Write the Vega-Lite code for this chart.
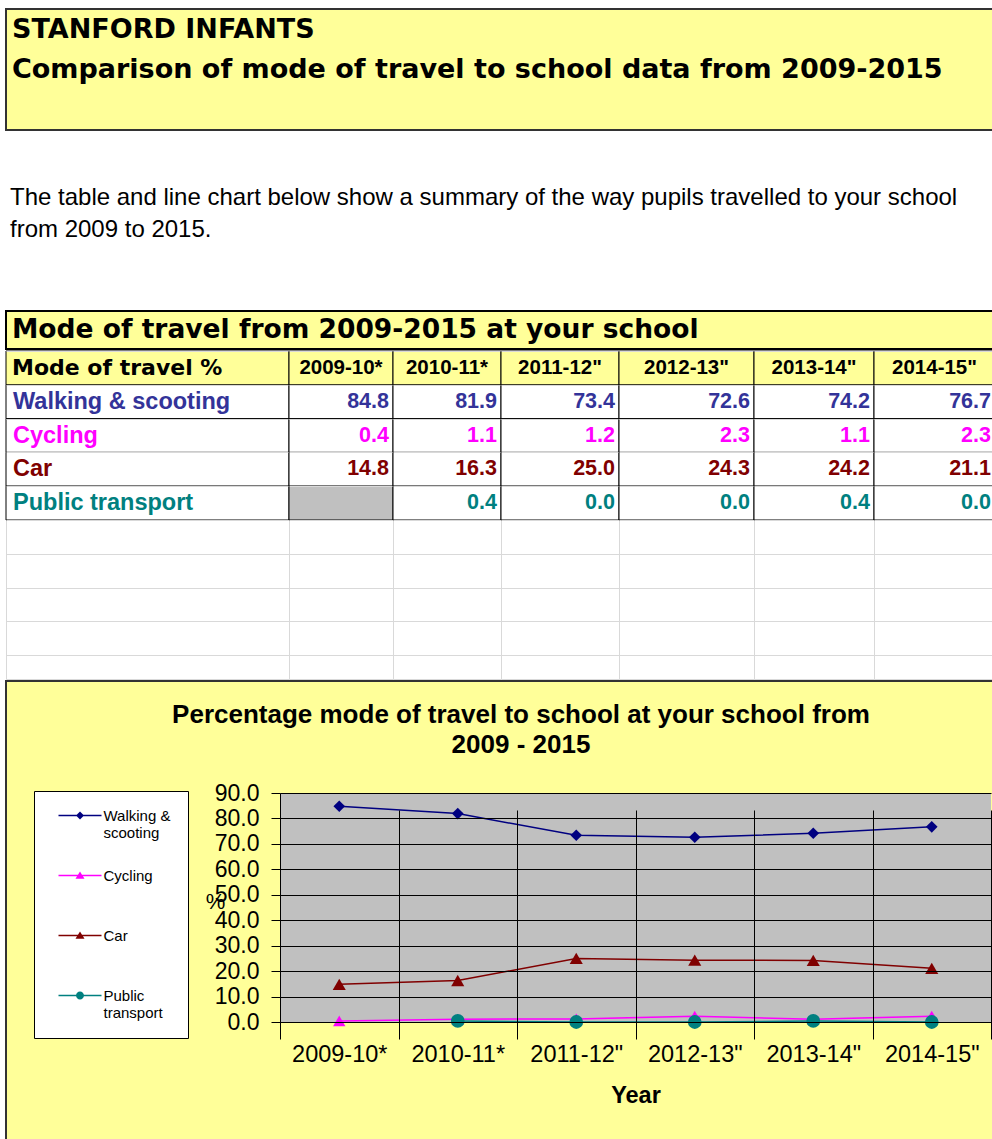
{
  "$schema": "https://vega.github.io/schema/vega-lite/v6.json",
  "usermeta": {"embedOptions": {"actions": false}},
  "background": "white",
  "padding": {"left": 5, "top": 8, "right": 0, "bottom": 0},
  "spacing": 0,
  "bounds": "full",
  "config": {"view": {"stroke": null}, "axis": {"minExtent": 0}},
  "resolve": {"scale": {"x": "independent", "y": "independent", "color": "independent"}},
  "datasets": {
    "heading": [
      {"line": 1, "text": "STANFORD INFANTS"},
      {"line": 2, "text": "Comparison of mode of travel to school data from 2009-2015"}
    ],
    "intro": [
      {"line": 1, "text": "The table and line chart below show a summary of the way pupils travelled to your school"},
      {"line": 2, "text": "from 2009 to 2015."}
    ],
    "tableMeta": [{"title": "Mode of travel from 2009-2015 at your school", "rowHeader": "Mode of travel %"}],
    "modes": [
      {"mode": "Walking & scooting"},
      {"mode": "Cycling"},
      {"mode": "Car"},
      {"mode": "Public transport"}
    ],
    "years": [
      {"year": "2009-10*", "col": 1},
      {"year": "2010-11*", "col": 2},
      {"year": "2011-12\"", "col": 3},
      {"year": "2012-13\"", "col": 4},
      {"year": "2013-14\"", "col": 5},
      {"year": "2014-15\"", "col": 6}
    ],
    "travel": [
      {"year": "2009-10*", "col": 1, "mode": "Walking & scooting", "pct": 84.8},
      {"year": "2009-10*", "col": 1, "mode": "Cycling", "pct": 0.4},
      {"year": "2009-10*", "col": 1, "mode": "Car", "pct": 14.8},
      {"year": "2009-10*", "col": 1, "mode": "Public transport", "pct": null},
      {"year": "2010-11*", "col": 2, "mode": "Walking & scooting", "pct": 81.9},
      {"year": "2010-11*", "col": 2, "mode": "Cycling", "pct": 1.1},
      {"year": "2010-11*", "col": 2, "mode": "Car", "pct": 16.3},
      {"year": "2010-11*", "col": 2, "mode": "Public transport", "pct": 0.4},
      {"year": "2011-12\"", "col": 3, "mode": "Walking & scooting", "pct": 73.4},
      {"year": "2011-12\"", "col": 3, "mode": "Cycling", "pct": 1.2},
      {"year": "2011-12\"", "col": 3, "mode": "Car", "pct": 25.0},
      {"year": "2011-12\"", "col": 3, "mode": "Public transport", "pct": 0.0},
      {"year": "2012-13\"", "col": 4, "mode": "Walking & scooting", "pct": 72.6},
      {"year": "2012-13\"", "col": 4, "mode": "Cycling", "pct": 2.3},
      {"year": "2012-13\"", "col": 4, "mode": "Car", "pct": 24.3},
      {"year": "2012-13\"", "col": 4, "mode": "Public transport", "pct": 0.0},
      {"year": "2013-14\"", "col": 5, "mode": "Walking & scooting", "pct": 74.2},
      {"year": "2013-14\"", "col": 5, "mode": "Cycling", "pct": 1.1},
      {"year": "2013-14\"", "col": 5, "mode": "Car", "pct": 24.2},
      {"year": "2013-14\"", "col": 5, "mode": "Public transport", "pct": 0.4},
      {"year": "2014-15\"", "col": 6, "mode": "Walking & scooting", "pct": 76.7},
      {"year": "2014-15\"", "col": 6, "mode": "Cycling", "pct": 2.3},
      {"year": "2014-15\"", "col": 6, "mode": "Car", "pct": 21.1},
      {"year": "2014-15\"", "col": 6, "mode": "Public transport", "pct": 0.0}
    ]
  },
  "vconcat": [
    {
      "width": 995, "height": 121,
      "view": {"fill": "#ffff99", "stroke": "#333333", "strokeWidth": 2},
      "data": {"name": "heading"},
      "mark": {"type": "text", "align": "left", "baseline": "alphabetic", "dx": 6, "font": "DejaVu Sans", "fontSize": 27, "fontWeight": "bold", "color": "black"},
      "encoding": {
        "x": {"datum": 0, "type": "quantitative", "scale": {"domain": [0, 1]}, "axis": null},
        "y": {"field": "line", "type": "ordinal", "scale": {"type": "point", "range": [28.5, 69], "padding": 0}, "axis": null},
        "text": {"field": "text"}
      }
    },
    {
      "width": 989, "height": 179,
      "data": {"name": "intro"},
      "mark": {"type": "text", "align": "left", "baseline": "alphabetic", "dx": 4, "font": "Liberation Sans", "fontSize": 24, "color": "black"},
      "encoding": {
        "x": {"datum": 0, "type": "quantitative", "scale": {"domain": [0, 1]}, "axis": null},
        "y": {"field": "line", "type": "ordinal", "scale": {"type": "point", "range": [74, 106], "padding": 0}, "axis": null},
        "text": {"field": "text"}
      }
    },
    {
      "width": 989, "height": 38,
      "view": {"fill": "#ffff99", "stroke": "black", "strokeWidth": 2},
      "data": {"name": "tableMeta"},
      "mark": {"type": "text", "align": "left", "baseline": "middle", "dx": 6, "font": "DejaVu Sans", "fontSize": 26.5, "fontWeight": "bold", "color": "black"},
      "encoding": {
        "x": {"datum": 0, "type": "quantitative", "scale": {"domain": [0, 1]}, "axis": null},
        "text": {"field": "title"}
      }
    },
    {
      "spacing": 0,
      "bounds": "flush",
      "resolve": {"scale": {"x": "independent", "y": "independent", "color": "independent"}},
      "hconcat": [
        {
          "width": 283, "height": 328,
          "view": {"fill": "white", "stroke": "#d9d9d9"},
          "encoding": {"y": {"field": "mode", "type": "nominal", "scale": {"domain": ["Mode of travel %", "Walking & scooting", "Cycling", "Car", "Public transport", "e1", "e2", "e3", "e4"], "range": [0, 304.2], "paddingInner": 0, "paddingOuter": 0}, "axis": {"grid": true, "gridColor": "#d9d9d9", "tickBand": "extent", "labels": false, "ticks": false, "domain": false, "title": null, "minExtent": 0, "maxExtent": 0}}},
          "layer": [
            {"data": {"name": "modes"}, "mark": {"type": "rect", "fill": "white", "stroke": "black", "strokeWidth": 1}, "encoding": {"x": {"datum": 0, "type": "quantitative", "scale": {"domain": [0, 1]}, "axis": null}, "x2": {"datum": 1}}},
            {"data": {"name": "modes"}, "mark": {"type": "text", "align": "left", "dx": 7, "font": "Liberation Sans", "fontSize": 23.5, "fontWeight": "bold"}, "encoding": {"x": {"datum": 0, "type": "quantitative"}, "text": {"field": "mode"}, "color": {"field": "mode", "type": "nominal", "scale": {"domain": ["Walking & scooting", "Cycling", "Car", "Public transport"], "range": ["#333399", "#ff00ff", "#800000", "#008080"]}, "legend": null}}},
            {"data": {"name": "tableMeta"}, "mark": {"type": "rect", "fill": "#ffff99", "stroke": "black", "strokeWidth": 1}, "encoding": {"y": {"datum": "Mode of travel %", "type": "nominal"}, "x": {"datum": 0, "type": "quantitative"}, "x2": {"datum": 1}}},
            {"data": {"name": "tableMeta"}, "mark": {"type": "text", "align": "left", "dx": 6, "font": "DejaVu Sans", "fontSize": 22, "fontWeight": "bold", "color": "black"}, "encoding": {"y": {"datum": "Mode of travel %", "type": "nominal"}, "x": {"datum": 0, "type": "quantitative"}, "text": {"field": "rowHeader"}}}
          ]
        },
        {
          "width": 104, "height": 328,
          "view": {"fill": "white", "stroke": "#d9d9d9"},
          "data": {"name": "travel"},
          "transform": [{"filter": "datum.col == 1"}],
          "encoding": {"y": {"field": "mode", "type": "nominal", "scale": {"domain": ["Mode of travel %", "Walking & scooting", "Cycling", "Car", "Public transport", "e1", "e2", "e3", "e4"], "range": [0, 304.2], "paddingInner": 0, "paddingOuter": 0}, "axis": {"grid": true, "gridColor": "#d9d9d9", "tickBand": "extent", "labels": false, "ticks": false, "domain": false, "title": null, "minExtent": 0, "maxExtent": 0}}},
          "layer": [
            {"mark": {"type": "rect", "stroke": "black", "strokeWidth": 1}, "encoding": {"x": {"datum": 0, "type": "quantitative", "scale": {"domain": [0, 1]}, "axis": null}, "x2": {"datum": 1}, "fill": {"condition": {"test": "datum.pct === null", "value": "#c0c0c0"}, "value": "white"}}},
            {"transform": [{"filter": "datum.pct !== null"}], "mark": {"type": "text", "align": "right", "dx": -4, "font": "Liberation Sans", "fontSize": 21.5, "fontWeight": "bold"}, "encoding": {"x": {"datum": 1, "type": "quantitative"}, "text": {"field": "pct", "format": ".1f"}, "color": {"field": "mode", "type": "nominal", "scale": {"domain": ["Walking & scooting", "Cycling", "Car", "Public transport"], "range": ["#333399", "#ff00ff", "#800000", "#008080"]}, "legend": null}}},
            {"data": {"name": "years"}, "transform": [{"filter": "datum.col == 1"}], "mark": {"type": "rect", "fill": "#ffff99", "stroke": "black", "strokeWidth": 1}, "encoding": {"y": {"datum": "Mode of travel %", "type": "nominal"}, "x": {"datum": 0, "type": "quantitative"}, "x2": {"datum": 1}}},
            {"data": {"name": "years"}, "transform": [{"filter": "datum.col == 1"}], "mark": {"type": "text", "font": "Liberation Sans", "fontSize": 20.5, "fontWeight": "bold", "color": "black"}, "encoding": {"y": {"datum": "Mode of travel %", "type": "nominal"}, "text": {"field": "year"}}}
          ]
        },
        {
          "width": 108, "height": 328,
          "view": {"fill": "white", "stroke": "#d9d9d9"},
          "data": {"name": "travel"},
          "transform": [{"filter": "datum.col == 2"}],
          "encoding": {"y": {"field": "mode", "type": "nominal", "scale": {"domain": ["Mode of travel %", "Walking & scooting", "Cycling", "Car", "Public transport", "e1", "e2", "e3", "e4"], "range": [0, 304.2], "paddingInner": 0, "paddingOuter": 0}, "axis": {"grid": true, "gridColor": "#d9d9d9", "tickBand": "extent", "labels": false, "ticks": false, "domain": false, "title": null, "minExtent": 0, "maxExtent": 0}}},
          "layer": [
            {"mark": {"type": "rect", "stroke": "black", "strokeWidth": 1}, "encoding": {"x": {"datum": 0, "type": "quantitative", "scale": {"domain": [0, 1]}, "axis": null}, "x2": {"datum": 1}, "fill": {"condition": {"test": "datum.pct === null", "value": "#c0c0c0"}, "value": "white"}}},
            {"transform": [{"filter": "datum.pct !== null"}], "mark": {"type": "text", "align": "right", "dx": -4, "font": "Liberation Sans", "fontSize": 21.5, "fontWeight": "bold"}, "encoding": {"x": {"datum": 1, "type": "quantitative"}, "text": {"field": "pct", "format": ".1f"}, "color": {"field": "mode", "type": "nominal", "scale": {"domain": ["Walking & scooting", "Cycling", "Car", "Public transport"], "range": ["#333399", "#ff00ff", "#800000", "#008080"]}, "legend": null}}},
            {"data": {"name": "years"}, "transform": [{"filter": "datum.col == 2"}], "mark": {"type": "rect", "fill": "#ffff99", "stroke": "black", "strokeWidth": 1}, "encoding": {"y": {"datum": "Mode of travel %", "type": "nominal"}, "x": {"datum": 0, "type": "quantitative"}, "x2": {"datum": 1}}},
            {"data": {"name": "years"}, "transform": [{"filter": "datum.col == 2"}], "mark": {"type": "text", "font": "Liberation Sans", "fontSize": 20.5, "fontWeight": "bold", "color": "black"}, "encoding": {"y": {"datum": "Mode of travel %", "type": "nominal"}, "text": {"field": "year"}}}
          ]
        },
        {
          "width": 118, "height": 328,
          "view": {"fill": "white", "stroke": "#d9d9d9"},
          "data": {"name": "travel"},
          "transform": [{"filter": "datum.col == 3"}],
          "encoding": {"y": {"field": "mode", "type": "nominal", "scale": {"domain": ["Mode of travel %", "Walking & scooting", "Cycling", "Car", "Public transport", "e1", "e2", "e3", "e4"], "range": [0, 304.2], "paddingInner": 0, "paddingOuter": 0}, "axis": {"grid": true, "gridColor": "#d9d9d9", "tickBand": "extent", "labels": false, "ticks": false, "domain": false, "title": null, "minExtent": 0, "maxExtent": 0}}},
          "layer": [
            {"mark": {"type": "rect", "stroke": "black", "strokeWidth": 1}, "encoding": {"x": {"datum": 0, "type": "quantitative", "scale": {"domain": [0, 1]}, "axis": null}, "x2": {"datum": 1}, "fill": {"condition": {"test": "datum.pct === null", "value": "#c0c0c0"}, "value": "white"}}},
            {"transform": [{"filter": "datum.pct !== null"}], "mark": {"type": "text", "align": "right", "dx": -4, "font": "Liberation Sans", "fontSize": 21.5, "fontWeight": "bold"}, "encoding": {"x": {"datum": 1, "type": "quantitative"}, "text": {"field": "pct", "format": ".1f"}, "color": {"field": "mode", "type": "nominal", "scale": {"domain": ["Walking & scooting", "Cycling", "Car", "Public transport"], "range": ["#333399", "#ff00ff", "#800000", "#008080"]}, "legend": null}}},
            {"data": {"name": "years"}, "transform": [{"filter": "datum.col == 3"}], "mark": {"type": "rect", "fill": "#ffff99", "stroke": "black", "strokeWidth": 1}, "encoding": {"y": {"datum": "Mode of travel %", "type": "nominal"}, "x": {"datum": 0, "type": "quantitative"}, "x2": {"datum": 1}}},
            {"data": {"name": "years"}, "transform": [{"filter": "datum.col == 3"}], "mark": {"type": "text", "font": "Liberation Sans", "fontSize": 20.5, "fontWeight": "bold", "color": "black"}, "encoding": {"y": {"datum": "Mode of travel %", "type": "nominal"}, "text": {"field": "year"}}}
          ]
        },
        {
          "width": 135, "height": 328,
          "view": {"fill": "white", "stroke": "#d9d9d9"},
          "data": {"name": "travel"},
          "transform": [{"filter": "datum.col == 4"}],
          "encoding": {"y": {"field": "mode", "type": "nominal", "scale": {"domain": ["Mode of travel %", "Walking & scooting", "Cycling", "Car", "Public transport", "e1", "e2", "e3", "e4"], "range": [0, 304.2], "paddingInner": 0, "paddingOuter": 0}, "axis": {"grid": true, "gridColor": "#d9d9d9", "tickBand": "extent", "labels": false, "ticks": false, "domain": false, "title": null, "minExtent": 0, "maxExtent": 0}}},
          "layer": [
            {"mark": {"type": "rect", "stroke": "black", "strokeWidth": 1}, "encoding": {"x": {"datum": 0, "type": "quantitative", "scale": {"domain": [0, 1]}, "axis": null}, "x2": {"datum": 1}, "fill": {"condition": {"test": "datum.pct === null", "value": "#c0c0c0"}, "value": "white"}}},
            {"transform": [{"filter": "datum.pct !== null"}], "mark": {"type": "text", "align": "right", "dx": -4, "font": "Liberation Sans", "fontSize": 21.5, "fontWeight": "bold"}, "encoding": {"x": {"datum": 1, "type": "quantitative"}, "text": {"field": "pct", "format": ".1f"}, "color": {"field": "mode", "type": "nominal", "scale": {"domain": ["Walking & scooting", "Cycling", "Car", "Public transport"], "range": ["#333399", "#ff00ff", "#800000", "#008080"]}, "legend": null}}},
            {"data": {"name": "years"}, "transform": [{"filter": "datum.col == 4"}], "mark": {"type": "rect", "fill": "#ffff99", "stroke": "black", "strokeWidth": 1}, "encoding": {"y": {"datum": "Mode of travel %", "type": "nominal"}, "x": {"datum": 0, "type": "quantitative"}, "x2": {"datum": 1}}},
            {"data": {"name": "years"}, "transform": [{"filter": "datum.col == 4"}], "mark": {"type": "text", "font": "Liberation Sans", "fontSize": 20.5, "fontWeight": "bold", "color": "black"}, "encoding": {"y": {"datum": "Mode of travel %", "type": "nominal"}, "text": {"field": "year"}}}
          ]
        },
        {
          "width": 120, "height": 328,
          "view": {"fill": "white", "stroke": "#d9d9d9"},
          "data": {"name": "travel"},
          "transform": [{"filter": "datum.col == 5"}],
          "encoding": {"y": {"field": "mode", "type": "nominal", "scale": {"domain": ["Mode of travel %", "Walking & scooting", "Cycling", "Car", "Public transport", "e1", "e2", "e3", "e4"], "range": [0, 304.2], "paddingInner": 0, "paddingOuter": 0}, "axis": {"grid": true, "gridColor": "#d9d9d9", "tickBand": "extent", "labels": false, "ticks": false, "domain": false, "title": null, "minExtent": 0, "maxExtent": 0}}},
          "layer": [
            {"mark": {"type": "rect", "stroke": "black", "strokeWidth": 1}, "encoding": {"x": {"datum": 0, "type": "quantitative", "scale": {"domain": [0, 1]}, "axis": null}, "x2": {"datum": 1}, "fill": {"condition": {"test": "datum.pct === null", "value": "#c0c0c0"}, "value": "white"}}},
            {"transform": [{"filter": "datum.pct !== null"}], "mark": {"type": "text", "align": "right", "dx": -4, "font": "Liberation Sans", "fontSize": 21.5, "fontWeight": "bold"}, "encoding": {"x": {"datum": 1, "type": "quantitative"}, "text": {"field": "pct", "format": ".1f"}, "color": {"field": "mode", "type": "nominal", "scale": {"domain": ["Walking & scooting", "Cycling", "Car", "Public transport"], "range": ["#333399", "#ff00ff", "#800000", "#008080"]}, "legend": null}}},
            {"data": {"name": "years"}, "transform": [{"filter": "datum.col == 5"}], "mark": {"type": "rect", "fill": "#ffff99", "stroke": "black", "strokeWidth": 1}, "encoding": {"y": {"datum": "Mode of travel %", "type": "nominal"}, "x": {"datum": 0, "type": "quantitative"}, "x2": {"datum": 1}}},
            {"data": {"name": "years"}, "transform": [{"filter": "datum.col == 5"}], "mark": {"type": "text", "font": "Liberation Sans", "fontSize": 20.5, "fontWeight": "bold", "color": "black"}, "encoding": {"y": {"datum": "Mode of travel %", "type": "nominal"}, "text": {"field": "year"}}}
          ]
        },
        {
          "width": 121, "height": 328,
          "view": {"fill": "white", "stroke": "#d9d9d9"},
          "data": {"name": "travel"},
          "transform": [{"filter": "datum.col == 6"}],
          "encoding": {"y": {"field": "mode", "type": "nominal", "scale": {"domain": ["Mode of travel %", "Walking & scooting", "Cycling", "Car", "Public transport", "e1", "e2", "e3", "e4"], "range": [0, 304.2], "paddingInner": 0, "paddingOuter": 0}, "axis": {"grid": true, "gridColor": "#d9d9d9", "tickBand": "extent", "labels": false, "ticks": false, "domain": false, "title": null, "minExtent": 0, "maxExtent": 0}}},
          "layer": [
            {"mark": {"type": "rect", "stroke": "black", "strokeWidth": 1}, "encoding": {"x": {"datum": 0, "type": "quantitative", "scale": {"domain": [0, 1]}, "axis": null}, "x2": {"datum": 1}, "fill": {"condition": {"test": "datum.pct === null", "value": "#c0c0c0"}, "value": "white"}}},
            {"transform": [{"filter": "datum.pct !== null"}], "mark": {"type": "text", "align": "right", "dx": -4, "font": "Liberation Sans", "fontSize": 21.5, "fontWeight": "bold"}, "encoding": {"x": {"datum": 1, "type": "quantitative"}, "text": {"field": "pct", "format": ".1f"}, "color": {"field": "mode", "type": "nominal", "scale": {"domain": ["Walking & scooting", "Cycling", "Car", "Public transport"], "range": ["#333399", "#ff00ff", "#800000", "#008080"]}, "legend": null}}},
            {"data": {"name": "years"}, "transform": [{"filter": "datum.col == 6"}], "mark": {"type": "rect", "fill": "#ffff99", "stroke": "black", "strokeWidth": 1}, "encoding": {"y": {"datum": "Mode of travel %", "type": "nominal"}, "x": {"datum": 0, "type": "quantitative"}, "x2": {"datum": 1}}},
            {"data": {"name": "years"}, "transform": [{"filter": "datum.col == 6"}], "mark": {"type": "text", "font": "Liberation Sans", "fontSize": 20.5, "fontWeight": "bold", "color": "black"}, "encoding": {"y": {"datum": "Mode of travel %", "type": "nominal"}, "text": {"field": "year"}}}
          ]
        }
      ]
    },
    {
      "name": "chart",
      "width": 1030, "height": 470,
      "view": {"fill": "#ffff99", "stroke": "#333333", "strokeWidth": 2},
      "title": {"text": ["Percentage mode of travel to school at your school from", "2009 - 2015"], "font": "Liberation Sans", "fontSize": 26, "fontWeight": "bold", "color": "black", "anchor": "middle", "frame": "group", "lineHeight": 30, "offset": -77},
      "data": {"name": "travel"},
      "encoding": {
        "x": {"field": "year", "type": "ordinal", "scale": {"type": "band", "domain": ["2009-10*", "2010-11*", "2011-12\"", "2012-13\"", "2013-14\"", "2014-15\""], "range": [274, 985], "paddingInner": 0, "paddingOuter": 0},
          "axis": {"orient": "bottom", "offset": -129, "title": "Year", "titleFont": "Liberation Sans", "titleFontSize": 23.5, "titleFontWeight": "bold", "titleColor": "black", "titlePadding": 18, "labelFont": "Liberation Sans", "labelFontSize": 23.5, "labelColor": "black", "labelAngle": 0, "labelPadding": 12, "labelOverlap": false, "tickSize": 8, "tickColor": "black", "tickBand": "extent", "domainColor": "black", "grid": true, "gridColor": "black", "gridOpacity": 1, "zindex": 1}},
        "y": {"field": "pct", "type": "quantitative", "scale": {"domain": [0, 90], "range": [341, 112], "nice": false},
          "axis": {"orient": "left", "offset": -274, "values": [0, 10, 20, 30, 40, 50, 60, 70, 80, 90], "format": ".1f", "title": "%", "titleAngle": 0, "titleX": -65, "titleY": 220, "titleAlign": "center", "titleBaseline": "middle", "titleFont": "Liberation Sans", "titleFontSize": 22, "titleFontWeight": "normal", "titleColor": "black", "labelFont": "Liberation Sans", "labelFontSize": 23, "labelColor": "black", "labelPadding": 12, "labelFlush": false, "labelOverlap": false, "tickSize": 9, "tickColor": "black", "domainColor": "black", "grid": true, "gridColor": "black", "gridOpacity": 1, "zindex": 1}}
      },
      "layer": [
        {"mark": {"type": "rect", "color": "#c0c0c0"}, "encoding": {"y": {"datum": 0, "type": "quantitative"}, "y2": {"datum": 90}}},
        {"mark": {"type": "line", "strokeWidth": 1.5},
          "encoding": {"color": {"field": "mode", "type": "nominal", "scale": {"domain": ["Walking & scooting", "Cycling", "Car", "Public transport"], "range": ["#000080", "#ff00ff", "#800000", "#008080"]},
            "legend": {"orient": "none", "legendX": 28, "legendY": 110, "title": null, "fillColor": "white", "strokeColor": "black", "padding": 17, "labelFont": "Liberation Sans", "labelFontSize": 15, "labelColor": "black", "symbolSize": 100, "symbolOffset": 21.5, "labelOffset": 16, "rowPadding": 27, "symbolStrokeWidth": 0,
              "labelExpr": "datum.label == 'Walking & scooting' ? ['Walking &', 'scooting'] : datum.label == 'Public transport' ? ['Public', 'transport'] : [datum.label, '']",
              "encode": {"symbols": {"update": {
                "shape": {"signal": "datum.value == 'Walking & scooting' ? 'M-4.3,-0.15L4.3,-0.15L4.3,0.15L-4.3,0.15ZM0,-0.8L0.8,0L0,0.8L-0.8,0Z' : datum.value == 'Public transport' ? 'M-4.3,-0.15L4.3,-0.15L4.3,0.15L-4.3,0.15ZM-0.8,0A0.8,0.8,0,1,1,0.8,0A0.8,0.8,0,1,1,-0.8,0Z' : 'M-4.3,-0.15L4.3,-0.15L4.3,0.15L-4.3,0.15ZM0,-0.8L0.9,0.65L-0.9,0.65Z'"}}}}}}}},
        {"mark": {"type": "point", "filled": true, "opacity": 1},
          "encoding": {"color": {"field": "mode", "type": "nominal"},
            "shape": {"field": "mode", "type": "nominal", "scale": {"domain": ["Walking & scooting", "Cycling", "Car", "Public transport"], "range": ["diamond", "triangle-up", "triangle-up", "circle"]}, "legend": null},
            "size": {"field": "mode", "type": "ordinal", "scale": {"domain": ["Walking & scooting", "Cycling", "Car", "Public transport"], "range": [135, 190, 190, 120]}, "legend": null}}}
      ]
    }
  ]
}
